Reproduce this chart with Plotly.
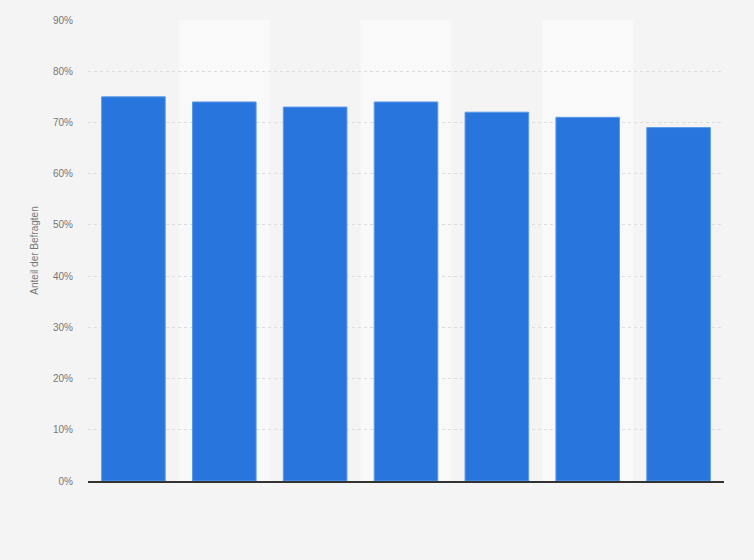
import plotly.graph_objects as go

categories = ["1", "2", "3", "4", "5", "6", "7"]
values = [75, 74, 73, 74, 72, 71, 69]
tick_vals = [0, 10, 20, 30, 40, 50, 60, 70, 80, 90]
tick_text = [f"{v}%" for v in tick_vals]

fig = go.Figure()
fig.add_trace(go.Bar(
    x=categories, y=values,
    marker=dict(color="#2876dd", line=dict(color="#5a9ae8", width=1)),
    hoverinfo="y",
))

shapes = []
for i in range(len(categories)):
    if i % 2 == 1:
        shapes.append(dict(type="rect", xref="x", yref="paper",
                           x0=i - 0.5, x1=i + 0.5, y0=0, y1=1,
                           fillcolor="#f9f9f9", line=dict(width=0), layer="below"))

fig.update_layout(
    width=754, height=560,
    margin=dict(l=88, r=30, t=20, b=79),
    paper_bgcolor="#f4f4f4", plot_bgcolor="#f4f4f4",
    bargap=0.3,
    shapes=shapes,
    showlegend=False,
    font=dict(family="Liberation Sans, Arial, sans-serif", color="#777777", size=10),
    xaxis=dict(showticklabels=False, showgrid=False, zeroline=False,
               showline=True, linecolor="#333333", linewidth=1.5,
               range=[-0.5, len(categories) - 0.5], fixedrange=True),
    yaxis=dict(range=[0, 90], tickvals=tick_vals, ticktext=tick_text,
               showgrid=True, gridcolor="#dcdcdc", griddash="dot", gridwidth=1,
               zeroline=False, ticks="", ticklabelstandoff=14,
               title=dict(text="Anteil der Befragten", font=dict(size=10, color="#777777"),
                          standoff=12),
               fixedrange=True),
)

fig.write_html("out.html",
               config={"displayModeBar": False},
               post_script="document.body.style.margin='0';document.body.style.background='#f4f4f4';")
